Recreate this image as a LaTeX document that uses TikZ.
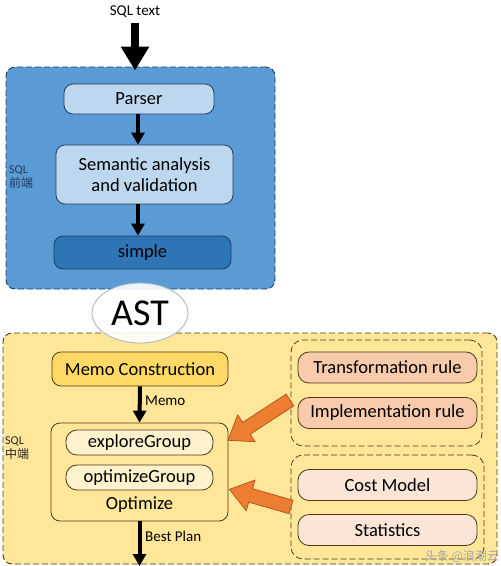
\documentclass[tikz,border=0pt]{standalone}
\usepackage{fontspec}
\setmainfont{Carlito}
\newfontfamily\cjk{Noto Sans CJK SC}
\usetikzlibrary{arrows.meta,shapes.geometric}
\definecolor{bluebg}{HTML}{5B9BD5}
\definecolor{bluelight}{HTML}{BDD7EE}
\definecolor{bluedark}{HTML}{2E75B6}
\definecolor{navy}{HTML}{1F3A5F}
\definecolor{yellowbg}{HTML}{FFE699}
\definecolor{gold}{HTML}{FFD966}
\definecolor{cream}{HTML}{FFF2CC}
\definecolor{salmon}{HTML}{F8CBAD}
\definecolor{peach}{HTML}{FBE5D6}
\definecolor{orangearr}{HTML}{ED7D31}
\definecolor{orangeedge}{HTML}{A9521A}
\definecolor{brownedge}{HTML}{4A3A1A}
\begin{document}
\begin{tikzpicture}[x=1pt,y=-1pt,
  container/.style={draw=navy, dash pattern=on 6pt off 3pt, line width=0.9pt, rounded corners=9pt},
  bluebox/.style={draw=navy, line width=0.8pt, rounded corners=9pt, font=\fontsize{18.5}{21}\selectfont, text=black},
  ybox/.style={draw=brownedge, line width=0.8pt, rounded corners=9pt, font=\fontsize{18.5}{21}\selectfont, text=black},
  pill/.style={draw=brownedge, line width=0.8pt, rounded corners=11pt, font=\fontsize{18.5}{21}\selectfont, text=black, minimum width=179pt, minimum height=31pt},
  group/.style={draw=brownedge, dash pattern=on 6pt off 3pt, line width=0.8pt, rounded corners=12pt},
  blackarrow/.style={line width=4pt, -{Triangle[width=13pt,length=12pt]}},
  bigarrow/.style={line width=8pt, -{Triangle[width=27pt,length=24pt]}},
  side/.style={font=\fontsize{12}{14}\selectfont, text=navy, align=left, inner sep=0pt, anchor=west},
  lbl/.style={font=\fontsize{15}{17}\selectfont, anchor=west, inner sep=0pt},
  blockarrow/.style={fill=orangearr, draw=orangeedge, line width=0.7pt, line join=miter}
]
\useasboundingbox (0,0) rectangle (501,566);

% ---------- front end ----------
\node[container, fill=bluebg, minimum width=269pt, minimum height=222pt] (front) at (140.5,178) {};
\node[font=\fontsize{15}{17}\selectfont, inner sep=0pt] (sqltext) at (135,12) {SQL text};
\draw[bigarrow] ([yshift=-5pt]sqltext.south) -- ([yshift=-4pt]sqltext.south |- front.north);

\node[bluebox, fill=bluelight, minimum width=150pt, minimum height=30pt] (parser) at (139,99) {Parser};
\node[bluebox, fill=bluelight, minimum width=177pt, minimum height=59pt, align=center] (sem) at (144.5,174.5) {Semantic analysis\\and validation};
\node[bluebox, fill=bluedark, minimum width=177pt, minimum height=33pt] (simple) at (142.5,252.5) {simple};
\draw[blackarrow] (parser.south -| 138,0) -- (sem.north -| 138,0);
\draw[blackarrow] (sem.south -| 138,0) -- (simple.north -| 138,0);
\node[side] (fe) at (9,177) {SQL\\{\cjk 前端}};

% ---------- middle end ----------
\node[container, draw=brownedge, fill=yellowbg, minimum width=494pt, minimum height=231pt] (mid) at (250,448.5) {};

\node[ellipse, draw=bluelight!60!gray, line width=0.8pt, fill=white, fill opacity=0.9, text opacity=1, minimum width=96pt, minimum height=60pt, font=\fontsize{38}{40}\selectfont, inner sep=0pt] (ast) at (140,313) {AST};

\node[ybox, fill=gold, minimum width=176pt, minimum height=34pt] (memo) at (140,369) {Memo Construction};
\node[ybox, fill=yellowbg, minimum width=177pt, minimum height=98pt] (opt) at (139.5,472) {};
\node[pill, fill=cream, minimum width=147pt, minimum height=25pt] (explore) at (139.5,442.5) {exploreGroup};
\node[pill, fill=cream, minimum width=147pt, minimum height=25pt] (optg) at (139.5,477.5) {optimizeGroup};
\node[font=\fontsize{18.5}{21}\selectfont, inner sep=0pt] (opttext) at (139.5,505) {Optimize};

\draw[blackarrow] (memo.south) -- (opt.north);
\node[lbl] (memolbl) at (145,401) {Memo};
\coordinate (out) at (139.5,566);
\draw[blackarrow] (opt.south) -- (out);
\node[lbl] (bestlbl) at (145,536) {Best Plan};
\node[side, text=black!85] (me) at (5,448) {SQL\\{\cjk 中端}};

% ---------- rule groups ----------
\node[group, minimum width=191pt, minimum height=106pt] (g1) at (386.5,393) {};
\node[pill, fill=salmon] (trans) at (387.5,367.5) {Transformation rule};
\node[pill, fill=salmon] (impl) at (387.5,413) {Implementation rule};
\node[group, minimum width=193pt, minimum height=104pt] (g2) at (387.5,507) {};
\node[pill, fill=peach] (cost) at (387.5,485) {Cost Model};
\node[pill, fill=peach] (stats) at (387.5,530) {Statistics};

% ---------- block arrows ----------
\begin{scope}[shift={(290,400)}, rotate=213]
  \draw[blockarrow] (0,7) -- (52,7) -- (52,16) -- (74,0) -- (52,-16) -- (52,-7) -- (0,-7) -- cycle;
\end{scope}
\begin{scope}[shift={(291,507)}, rotate=164]
  \draw[blockarrow] (0,7) -- (42,7) -- (42,16) -- (64,0) -- (42,-16) -- (42,-7) -- (0,-7) -- cycle;
\end{scope}

% watermark
\node[font=\cjk\fontsize{12}{14}\selectfont, text=gray!70, anchor=east, inner sep=0pt] (wm) at (499,556) {头条 @浪潮云};
\end{tikzpicture}
\end{document}
